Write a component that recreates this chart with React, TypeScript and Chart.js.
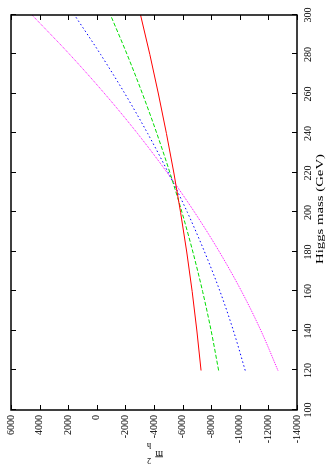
import React, { useEffect, useRef } from "react";
import { Chart, registerables } from "chart.js";
Chart.register(...registerables);

// Higgs mass (GeV) sample points
const higgsMass = [120, 140, 160, 180, 200, 220, 240, 260, 280, 300];
// m̄²_h curves
const redSeries = [-7290, -7000, -6670, -6290, -5860, -5390, -4870, -4310, -3710, -3060];
const greenSeries = [-8520, -8000, -7400, -6720, -5960, -5120, -4200, -3200, -2120, -960];
const blueSeries = [-10380, -9560, -8620, -7540, -6340, -5010, -3560, -1980, -270, 1560];
const magentaSeries = [-12670, -11490, -10130, -8580, -6850, -4940, -2850, -570, 1890, 4530];

const massTicks = [100, 120, 140, 160, 180, 200, 220, 240, 260, 280, 300];
const m2Ticks = [-14000, -12000, -10000, -8000, -6000, -4000, -2000, 0, 2000, 4000, 6000];

const xTitle = "Higgs mass (GeV)";
const FONT = "'Liberation Serif', 'Times New Roman', serif";

export default function App() {
  const ref = useRef<HTMLCanvasElement>(null);
  useEffect(() => {
    const canvas = ref.current!;
    const mk = (vals: number[], color: string, dash: number[]) => ({
      data: higgsMass.map((m, i) => ({ x: m, y: vals[i] })),
      borderColor: color,
      borderWidth: 1,
      borderDash: dash,
      pointRadius: 0,
      fill: false,
      cubicInterpolationMode: "monotone" as const,
      showLine: true,
    });

    const framePlugin = {
      id: "frame",
      afterDraw(chart: any) {
        const { ctx, chartArea: a, scales } = chart;
        ctx.save();
        ctx.strokeStyle = "#000";
        ctx.lineWidth = 1.5;
        const L = a.left, R = a.right, T = a.top, B = a.bottom;
        ctx.strokeRect(L, T, R - L, B - T);
        ctx.lineWidth = 1;
        const tl = 5;
        ctx.beginPath();
        massTicks.forEach((v) => {
          const px = Math.round(scales.x.getPixelForValue(v)) + 0.5;
          ctx.moveTo(px, B); ctx.lineTo(px, B - tl);
          ctx.moveTo(px, T); ctx.lineTo(px, T + tl);
        });
        m2Ticks.forEach((v) => {
          const py = Math.round(scales.y.getPixelForValue(v)) + 0.5;
          ctx.moveTo(L, py); ctx.lineTo(L + tl, py);
          ctx.moveTo(R, py); ctx.lineTo(R - tl, py);
        });
        ctx.stroke();

        // x-axis title
        ctx.fillStyle = "#000";
        ctx.font = `11px ${FONT}`;
        ctx.textBaseline = "alphabetic";
        ctx.textAlign = "center";
        const w = ctx.measureText(xTitle).width;
        ctx.save();
        ctx.translate(258, 323);
        ctx.scale(110 / w, 1);
        ctx.fillText(xTitle, 0, 0);
        ctx.restore();

        // y-axis title: m̄ with stacked ^2 and _h
        ctx.save();
        ctx.translate(16.3, 163);
        ctx.rotate(-Math.PI / 2);
        ctx.textAlign = "left";
        ctx.font = `10px ${FONT}`;
        ctx.fillText("m", 0, 0);
        const mw = ctx.measureText("m").width;
        ctx.fillRect(0, -6.5, mw, 0.8);
        ctx.font = `8px ${FONT}`;
        ctx.fillText("2", 12, -7.3);
        ctx.fillText("h", 12, 8);
        ctx.restore();
        ctx.restore();
      },
    };

    const chart = new Chart(canvas, {
      type: "scatter",
      data: {
        datasets: [
          mk(redSeries, "#ff0000", []),
          mk(greenSeries, "#00dd00", [4, 2]),
          mk(blueSeries, "#0000ff", [1.5, 2.5]),
          mk(magentaSeries, "#ff00ff", [1, 1]),
        ],
      },
      options: {
        animation: false,
        responsive: false,
        layout: { padding: { left: 0, right: 15, top: 11, bottom: 0 } },
        plugins: { legend: { display: false }, tooltip: { enabled: false } },
        scales: {
          x: {
            type: "linear",
            min: 100,
            max: 300,
            afterBuildTicks: (s: any) => { s.ticks = massTicks.map((v) => ({ value: v })); },
            afterFit: (s: any) => { s.height = 30; },
            grid: { display: false, drawTicks: false, tickLength: 0 },
            border: { display: false },
            ticks: {
              color: "#000",
              font: { family: FONT, size: 10 },
              padding: 5,
              maxRotation: 0,
              autoSkip: false,
              callback: (v: any) => String(v),
            },
          },
          y: {
            type: "linear",
            min: -14000,
            max: 6000,
            afterBuildTicks: (s: any) => { s.ticks = m2Ticks.map((v) => ({ value: v })); },
            afterFit: (s: any) => { s.width = 57; },
            grid: { display: false, drawTicks: false, tickLength: 0 },
            border: { display: false },
            ticks: {
              color: "#000",
              font: { family: FONT, size: 10 },
              padding: 5,
              autoSkip: false,
              callback: (v: any) => String(v),
            },
          },
        },
      },
      plugins: [framePlugin],
    });
    return () => chart.destroy();
  }, []);

  return (
    <div style={{ position: "fixed", left: 0, top: 0, width: 327, height: 467, overflow: "hidden", background: "#fff" }}>
      <div
        style={{
          position: "absolute",
          left: 0,
          top: 0,
          width: 467,
          height: 327,
          transformOrigin: "0 0",
          transform: "translateY(467px) rotate(-90deg)",
        }}
      >
        <canvas ref={ref} width={467} height={327} style={{ display: "block", width: 467, height: 327 }} />
      </div>
    </div>
  );
}
